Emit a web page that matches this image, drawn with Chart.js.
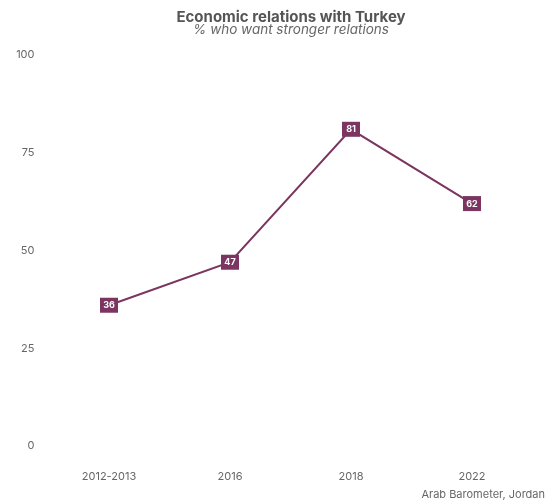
<!DOCTYPE html>
<html>
<head>
<meta charset="utf-8">
<script src="https://cdn.jsdelivr.net/npm/chart.js@4"></script>
<style>
html,body{margin:0;padding:0;background:#fff;}
#wrap{width:549px;height:504px;position:relative;}
</style>
</head>
<body>
<div id="wrap"><canvas id="c" width="549" height="504"></canvas></div>
<script>
const categories = ['2012-2013', '2016', '2018', '2022'];
const values = [36, 47, 81, 62];
const yTicks = [0, 25, 50, 75, 100];
const titleText = 'Economic relations with Turkey';
const subtitleText = '% who want stronger relations';
const captionText = 'Arab Barometer, Jordan';

const COLOR = '#7b3560';
const FONT = 'Inter, "Open Sans", sans-serif';

const textPlugin = {
  id: 'texts',
  afterDraw(chart) {
    const ctx = chart.ctx;
    ctx.save();
    ctx.textAlign = 'center';
    ctx.textBaseline = 'middle';
    ctx.fillStyle = '#555';
    ctx.font = 'bold 15px ' + FONT;
    ctx.fillText(titleText, 291, 17);
    ctx.font = 'italic 13.5px ' + FONT;
    ctx.fillStyle = '#666';
    ctx.fillText(subtitleText, 291, 30);
    ctx.textAlign = 'right';
    ctx.font = '11px ' + FONT;
    ctx.fillStyle = '#666';
    ctx.fillText(captionText, 545, 495);
    ctx.restore();
  }
};

const labelPlugin = {
  id: 'boxlabels',
  afterDatasetsDraw(chart) {
    const ctx = chart.ctx;
    const meta = chart.getDatasetMeta(0);
    ctx.save();
    meta.data.forEach((pt, i) => {
      const w = 18, h = 15;
      ctx.fillStyle = COLOR;
      ctx.fillRect(pt.x - w / 2, pt.y - h / 2, w, h);
      ctx.fillStyle = '#fff';
      ctx.font = 'bold 9px ' + FONT;
      ctx.textAlign = 'center';
      ctx.textBaseline = 'middle';
      ctx.fillText(String(values[i]), pt.x, pt.y + 0.5);
    });
    ctx.restore();
  }
};

new Chart(document.getElementById('c'), {
  type: 'line',
  data: {
    labels: categories,
    datasets: [{
      data: values,
      borderColor: COLOR,
      borderWidth: 2,
      pointRadius: 0,
      tension: 0,
      fill: false
    }]
  },
  options: {
    responsive: false,
    animation: false,
    layout: { padding: { left: 0, right: 16.5, top: 55, bottom: 18 } },
    plugins: {
      legend: { display: false },
      title: { display: false },
      tooltip: { enabled: false }
    },
    scales: {
      x: {
        offset: true,
        grid: { display: false, drawTicks: false },
        border: { display: false },
        ticks: { color: '#666', font: { family: FONT, size: 11 }, padding: 24 },
        afterFit(s) { s.height = 40; }
      },
      y: {
        min: 0, max: 100,
        afterBuildTicks(s) { s.ticks = yTicks.map(v => ({ value: v })); },
        grid: { display: false, drawTicks: false },
        border: { display: false },
        ticks: { color: '#666', font: { family: FONT, size: 11 }, padding: 14 },
        afterFit(s) { s.width = 48.5; }
      }
    }
  },
  plugins: [textPlugin, labelPlugin]
});
</script>
</body>
</html>
